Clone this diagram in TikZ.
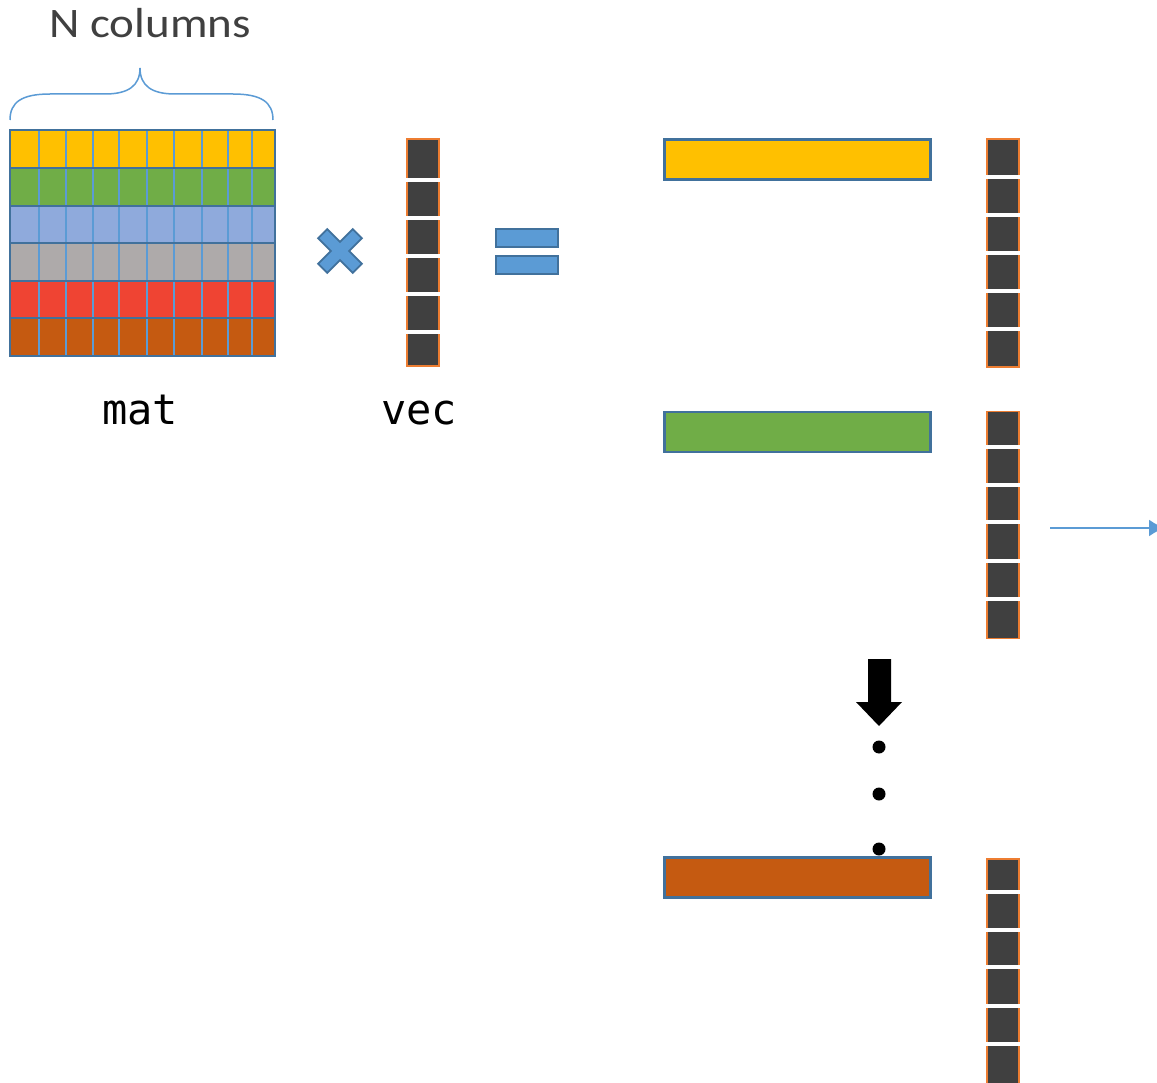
\documentclass[tikz,border=0pt]{standalone}
\usepackage{fontspec}
\usetikzlibrary{arrows.meta}
\newfontfamily\labelfont{Carlito}
\newfontfamily\codefont{DejaVu Sans Mono}
\definecolor{cYellow}{HTML}{FFC000}
\definecolor{cGreen}{HTML}{70AD47}
\definecolor{cSky}{HTML}{8FAADC}
\definecolor{cGray}{HTML}{AEAAAA}
\definecolor{cRed}{HTML}{EF4433}
\definecolor{cBrown}{HTML}{C55A11}
\definecolor{cBlue}{HTML}{5B9BD5}
\definecolor{cEdge}{HTML}{41719C}
\definecolor{cDark}{HTML}{404040}
\definecolor{cOrange}{HTML}{ED7D31}
\tikzset{
  bar/.style={draw=cEdge, line width=2.8pt, minimum width=266pt, minimum height=40pt, inner sep=0pt},
  vecbox/.style={draw=cOrange, line width=1.2pt, fill=cDark, minimum width=32pt, inner sep=0pt},
  gapline/.style={white, line width=3.5pt},
  codelabel/.style={font=\codefont\fontsize{42}{48}\selectfont, anchor=base, inner sep=0pt},
  dot/.style={circle, fill=black, minimum size=13pt, inner sep=0pt},
}
\begin{document}
\begin{tikzpicture}[x=1pt,y=-1pt]
\clip (0,0) rectangle (1157,1083);
\fill[white] (0,0) rectangle (1157,1083);

% column count label and brace
\node[anchor=base, inner sep=0pt, text=cDark, font=\labelfont\fontsize{42}{48}\selectfont]
  (ncols) at (150,38) {\scalebox{1.12}[1]{N columns}};
\draw[cBlue, line width=1.5pt]
  (10,120) .. controls (10,102) and (22,94) .. (50,94) -- (105,94)
  .. controls (128,94) and (140,86) .. (140,68)
  .. controls (140,86) and (152,94) .. (175,94) -- (233,94)
  .. controls (261,94) and (273,102) .. (273,120);

% the matrix: six coloured rows, ten columns
\foreach \c [count=\i from 0] in {cYellow,cGreen,cSky,cGray,cRed,cBrown}
  \fill[\c] (10,{130+37.67*\i}) rectangle (275,{130+37.67*(\i+1)});
\foreach \x in {39,66,93,119,147,174,202,228,252}
  \draw[cBlue, line width=1.5pt] (\x,130) -- (\x,356);
\foreach \y in {168,206,243,281,318}
  \draw[cEdge, line width=2.8pt] (10,\y) -- (275,\y);
\draw[cEdge, line width=2.8pt] (10,130) rectangle (275,356);
\node[codelabel] (matlabel) at (140,424) {mat};

% multiplication sign
\begin{scope}[shift={(340,251)}, rotate=45]
  \filldraw[fill=cBlue, draw=cEdge, line width=1.8pt]
    (-6.5,-24.5) -- (6.5,-24.5) -- (6.5,-6.5) -- (24.5,-6.5) -- (24.5,6.5)
    -- (6.5,6.5) -- (6.5,24.5) -- (-6.5,24.5) -- (-6.5,6.5) -- (-24.5,6.5)
    -- (-24.5,-6.5) -- (-6.5,-6.5) -- cycle;
\end{scope}

% the vector
\node[vecbox, minimum height=227pt] (vec) at (423,252.5) {};
\foreach \y in {180,218,256,294,332}
  \draw[gapline] (vec.west |- 0,\y) -- (vec.east |- 0,\y);
\node[codelabel] (veclabel) at (419,424) {vec};

% equals sign
\filldraw[fill=cBlue, draw=cEdge, line width=1.8pt] (496,229) rectangle (558,247);
\filldraw[fill=cBlue, draw=cEdge, line width=1.8pt] (496,256) rectangle (558,274);

% first row times vector
\node[bar, fill=cYellow] (rowA) at (797.5,159.5) {};
\node[vecbox, minimum height=228pt] (vecA) at (1003,253) {};
\foreach \y in {177,215,253,291,329}
  \draw[gapline] (vecA.west |- 0,\y) -- (vecA.east |- 0,\y);

% second row times vector
\node[bar, fill=cGreen] (rowB) at (797.5,432) {};
\node[vecbox, minimum height=227pt] (vecB) at (1003,525) {};
\foreach \y in {447,485,522,561,599}
  \draw[gapline] (vecB.west |- 0,\y) -- (vecB.east |- 0,\y);
\coordinate (outA) at (1050,528);
\coordinate (outB) at (1165,528);
\draw[cBlue, line width=2pt, -{Latex[length=16pt,width=17pt]}] (outA) -- (outB);

% continuation marks
\fill[black] (868,659) -- (891,659) -- (891,702) -- (902,702) -- (879,726)
  -- (856,702) -- (868,702) -- cycle;
\node[dot] (d1) at (879,747) {};
\node[dot] (d2) at (879,794) {};
\node[dot] (d3) at (879,849) {};

% last row times vector
\node[bar, fill=cBrown] (rowF) at (797.5,877.5) {};
\node[vecbox, minimum height=227pt] (vecF) at (1003,972.5) {};
\foreach \y in {892,930,967,1006,1044}
  \draw[gapline] (vecF.west |- 0,\y) -- (vecF.east |- 0,\y);
\end{tikzpicture}
\end{document}
